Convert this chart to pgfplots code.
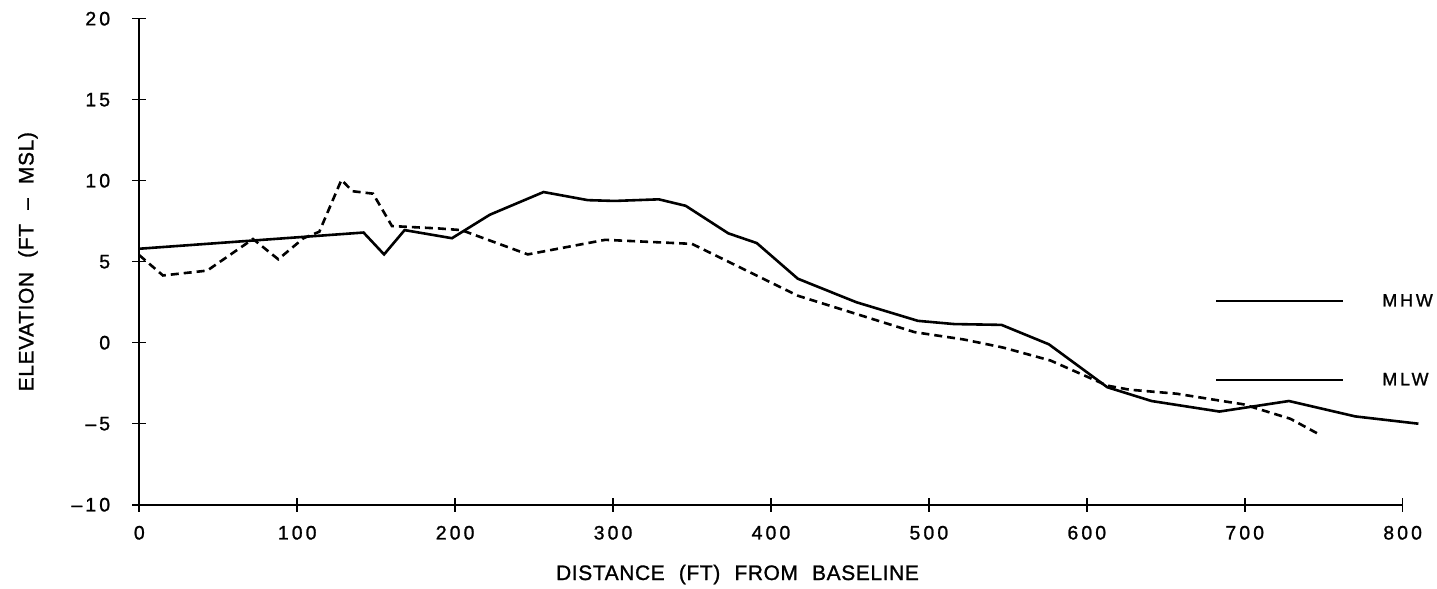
\documentclass[border=0pt]{standalone}
\usepackage{pgfplots}
\pgfplotsset{compat=1.18}
\usepackage{fontspec}
\setmainfont{Liberation Sans}[WordSpace=2.2, LetterSpace=3, FakeBold=1.2]
\newfontfamily\tickfont{Liberation Sans}[LetterSpace=16, FakeBold=1.2]
\begin{document}
\begin{tikzpicture}
\useasboundingbox (0,0) rectangle (1437bp,589bp);
\begin{axis}[
  at={(139.3bp,84.3bp)}, anchor=south west,
  scale only axis, width=1263.4bp, height=486bp,
  xmin=0, xmax=800, ymin=-10, ymax=20,
  axis x line*=bottom, axis y line*=left,
  axis line style={-, line width=2bp, black},
  clip=false,
  xtick={0,100,...,800},
  ytick={-10,-5,0,5,10,15,20},
  yticklabels={\textendash10,\textendash5,0,5,10,15,20},
  tick align=center, major tick length=14bp,
  tick style={line width=1.6bp, black},
  /pgf/number format/assume math mode=true,
  ticklabel style={font=\tickfont\fontsize{19.5}{19.5}\selectfont},
  yticklabel style={anchor=east, inner sep=0pt, xshift=-22bp},
  xticklabel style={anchor=north, inner sep=0pt, yshift=-14bp},
  xlabel={DISTANCE (FT) FROM BASELINE},
  xlabel style={font=\fontsize{21}{21}\selectfont, at={(axis description cs:0.4735,0)}, anchor=base, yshift=-75.3bp},
  ylabel={ELEVATION (FT \textendash\ MSL)},
  ylabel style={font=\fontsize{21}{21}\selectfont, at={(axis description cs:-0.0881,0.5)}, anchor=center},
  legend style={draw=none, fill=none, at={(axis description cs:0.8514,0.3379)}, anchor=west,
    font=\tickfont\fontsize{18}{18}\selectfont, row sep=65bp, column sep=38bp, inner sep=0pt,
    nodes={inner sep=0pt}},
  legend cell align=left,
  legend image code/.code={\draw[#1] (0bp,0bp) -- (127bp,0bp);},
]
\addplot[black, line width=2.6bp, forget plot] coordinates {
(0,5.8) (142,6.8) (155,5.45) (168,6.95) (198,6.45) (222,7.9) (239,8.6) (256,9.3)
(284,8.8) (301,8.75) (329,8.85) (346,8.45) (373,6.75) (391,6.15) (417,3.95) (454,2.5)
(493,1.35) (516,1.15) (546,1.1) (576,-0.1) (613,-2.75) (641,-3.6) (684,-4.25) (728,-3.6)
(770,-4.55) (810,-5.0)
};
\addplot[black, line width=2.6bp, dash pattern=on 8bp off 5bp, forget plot] coordinates {
(0,5.4) (15,4.15) (43,4.45) (72,6.4) (88,5.15) (104,6.45) (114,6.85) (128,10.05)
(135,9.35) (148,9.2) (160,7.2) (190,7.05) (204,6.95) (246,5.45) (295,6.35) (350,6.1)
(417,2.9) (491,0.65) (522,0.2) (547,-0.3) (577,-1.1) (613,-2.65) (627,-2.9) (657,-3.15)
(689,-3.65) (699,-3.8) (729,-4.7) (746,-5.6)
};
\addlegendimage{black, line width=2.2bp}
\addlegendentry{MHW}
\addlegendimage{black, line width=2.2bp}
\addlegendentry{MLW}
\end{axis}
\end{tikzpicture}
\end{document}
